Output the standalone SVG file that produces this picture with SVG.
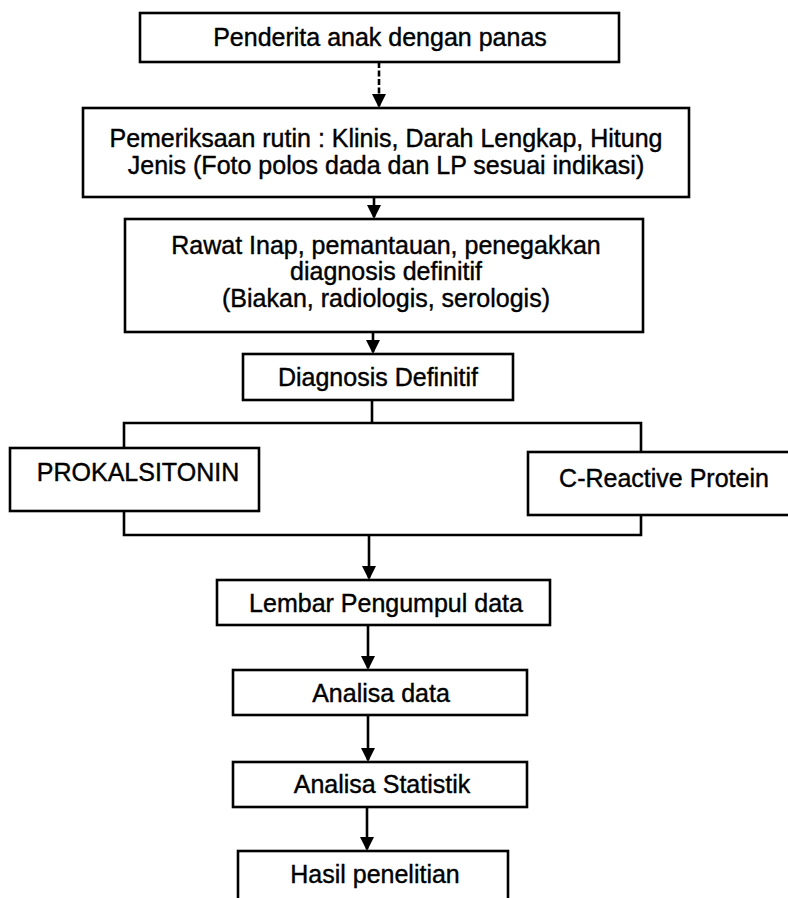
<svg xmlns="http://www.w3.org/2000/svg" width="788" height="898" viewBox="0 0 788 898">
  <defs>
    <style>
      .box { fill: #ffffff; stroke: #000000; stroke-width: 2.6; }
      .lbl { font-family: "Liberation Sans", Arial, sans-serif; font-size: 25px; fill: #000000; stroke: #000000; stroke-width: 0.4; text-anchor: middle; }
      .con { fill: none; stroke: #000000; stroke-width: 2.6; }
      .dash { stroke-dasharray: 6 2.5; }
    </style>
    <marker id="arrow" viewBox="0 0 14 14" refX="12" refY="7" markerWidth="14" markerHeight="14" markerUnits="userSpaceOnUse" orient="auto">
      <path d="M0,0 L14,7 L0,14 z" fill="#000000"/>
    </marker>
  </defs>
  <rect width="788" height="898" fill="#ffffff"/>

  <g id="connectors">
    <line class="con dash" x1="379" y1="62" x2="379" y2="106" marker-end="url(#arrow)"/>
    <line class="con" x1="374" y1="197" x2="374" y2="217" marker-end="url(#arrow)"/>
    <line class="con" x1="373" y1="332" x2="373" y2="352" marker-end="url(#arrow)"/>
    <line class="con" x1="372" y1="400" x2="372" y2="423"/>
    <polyline class="con" points="124,448 124,423 641,423 641,452"/>
    <polyline class="con" points="124,511 124,535 641,535 641,515"/>
    <line class="con" x1="369" y1="535" x2="369" y2="578" marker-end="url(#arrow)"/>
    <line class="con" x1="368" y1="625" x2="368" y2="668" marker-end="url(#arrow)"/>
    <line class="con" x1="368" y1="715" x2="368" y2="760" marker-end="url(#arrow)"/>
    <line class="con" x1="367" y1="807" x2="367" y2="849" marker-end="url(#arrow)"/>
  </g>

  <g id="n1">
    <rect class="box" x="140" y="13" width="479" height="49"/>
    <text class="lbl" x="380" y="46">Penderita anak dengan panas</text>
  </g>
  <g id="n2">
    <rect class="box" x="83" y="108" width="606" height="89"/>
    <text class="lbl" x="386" y="147">Pemeriksaan rutin : Klinis, Darah Lengkap, Hitung</text>
    <text class="lbl" x="386" y="174">Jenis (Foto polos dada dan LP sesuai indikasi)</text>
  </g>
  <g id="n3">
    <rect class="box" x="125" y="219" width="518" height="113"/>
    <text class="lbl" x="386" y="254">Rawat Inap, pemantauan, penegakkan</text>
    <text class="lbl" x="386" y="280">diagnosis definitif</text>
    <text class="lbl" x="386" y="307">(Biakan, radiologis, serologis)</text>
  </g>
  <g id="n4">
    <rect class="box" x="243" y="354" width="270" height="46"/>
    <text class="lbl" x="378" y="386">Diagnosis Definitif</text>
  </g>
  <g id="n5">
    <rect class="box" x="10" y="448" width="249" height="63"/>
    <text class="lbl" x="138" y="481">PROKALSITONIN</text>
  </g>
  <g id="n6">
    <rect class="box" x="528" y="452" width="270" height="63"/>
    <text class="lbl" x="664" y="487">C-Reactive Protein</text>
  </g>
  <g id="n7">
    <rect class="box" x="217" y="580" width="333" height="45"/>
    <text class="lbl" x="386" y="612">Lembar Pengumpul data</text>
  </g>
  <g id="n8">
    <rect class="box" x="233" y="670" width="294" height="45"/>
    <text class="lbl" x="381" y="702">Analisa data</text>
  </g>
  <g id="n9">
    <rect class="box" x="233" y="762" width="294" height="45"/>
    <text class="lbl" x="382" y="793">Analisa Statistik</text>
  </g>
  <g id="n10">
    <rect class="box" x="238" y="851" width="270" height="70"/>
    <text class="lbl" x="375" y="883">Hasil penelitian</text>
  </g>
</svg>
